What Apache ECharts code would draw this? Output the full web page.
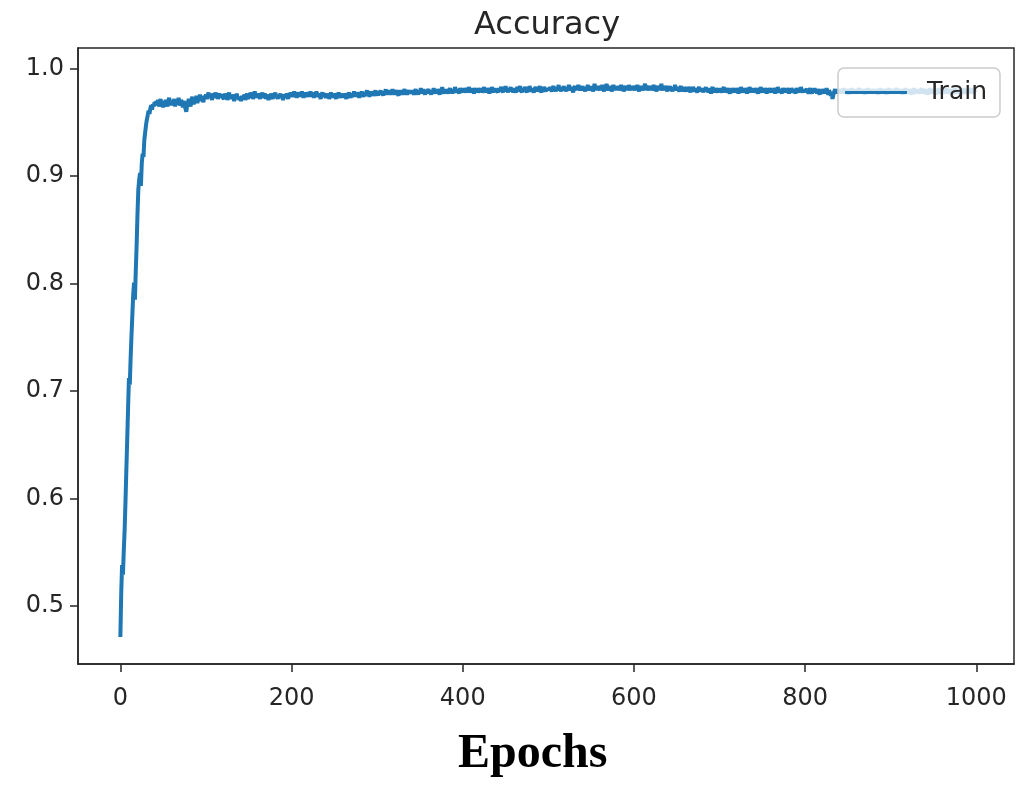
<!DOCTYPE html>
<html><head><meta charset="utf-8">
<script src="https://cdn.jsdelivr.net/npm/echarts@6/dist/echarts.min.js"></script>
<style>html,body{margin:0;padding:0;background:#fff}#c{width:1019px;height:787px}</style>
</head><body><div id="c"></div>
<script>
// Training accuracy per epoch (index = epoch)
const acc = [
.471,.512,.538,.529,.552,.571,.598,.627,.655,.684,.712,.706,.731,.752,.771,.790,.801,.785,.812,.836,
.865,.888,.897,.903,.891,.912,.921,.918,.934,.941,.948,.953,.957,.961,.958,.963,.966,.962,.967,.965,
.969,.966,.970,.967,.971,.965,.968,.972,.966,.969,.964,.970,.967,.971,.968,.965,.970,.973,.967,.969,
.966,.971,.968,.972,.965,.969,.970,.967,.973,.968,.966,.971,.969,.964,.970,.967,.963,.960,.966,.969,
.972,.968,.965,.971,.974,.969,.967,.972,.970,.975,.968,.973,.971,.976,.970,.974,.972,.969,.975,.973,
.976,.972,.975,.978,.973,.976,.974,.971,.977,.975,.973,.978,.974,.976,.972,.975,.977,.973,.976,.974,
.975,.972,.977,.974,.976,.971,.975,.978,.973,.975,.972,.976,.974,.970,.975,.973,.977,.972,.974,.971,
.974,.970,.975,.972,.973,.976,.971,.974,.977,.972,.975,.973,.978,.974,.976,.972,.975,.979,.974,.976,
.973,.977,.975,.972,.976,.974,.978,.973,.975,.977,.972,.976,.974,.971,.975,.973,.977,.974,.972,.976,
.974,.978,.973,.975,.972,.976,.974,.977,.973,.975,.971,.974,.976,.973,.977,.975,.972,.976,.974,.978,
.977,.974,.976,.979,.975,.977,.973,.976,.978,.975,.977,.974,.979,.976,.973,.977,.975,.978,.976,.974,
.977,.975,.979,.974,.976,.978,.973,.977,.975,.979,.976,.974,.977,.975,.972,.976,.978,.974,.977,.975,
.973,.976,.974,.977,.972,.975,.978,.974,.976,.973,.977,.975,.972,.976,.974,.978,.975,.973,.977,.974,
.976,.973,.977,.975,.972,.976,.974,.978,.975,.973,.977,.974,.976,.979,.975,.977,.974,.978,.976,.973,
.977,.975,.979,.976,.974,.978,.975,.977,.980,.976,.978,.974,.977,.979,.976,.978,.975,.977,.980,.976,
.978,.975,.979,.977,.980,.976,.978,.975,.979,.977,.981,.976,.978,.980,.977,.979,.976,.978,.981,.977,
.979,.976,.978,.980,.977,.975,.979,.977,.980,.978,.976,.979,.981,.977,.979,.976,.978,.980,.977,.979,
.977,.980,.978,.976,.979,.981,.977,.979,.976,.980,.978,.982,.977,.979,.981,.978,.976,.980,.978,.979,
.981,.977,.979,.976,.980,.978,.982,.979,.977,.980,.978,.981,.979,.976,.980,.978,.983,.979,.977,.980,
.978,.981,.979,.977,.980,.982,.978,.980,.977,.981,.979,.983,.980,.978,.981,.979,.977,.982,.980,.978,
.981,.979,.982,.980,.978,.981,.979,.983,.980,.978,.982,.979,.981,.977,.980,.982,.979,.981,.978,.980,
.982,.979,.981,.978,.980,.983,.979,.981,.978,.982,.980,.977,.981,.979,.983,.980,.978,.982,.979,.981,
.980,.978,.982,.979,.981,.983,.980,.978,.982,.980,.984,.979,.981,.978,.982,.980,.983,.979,.981,.978,
.982,.980,.978,.981,.983,.979,.981,.984,.980,.978,.982,.979,.981,.983,.980,.978,.982,.980,.984,.981,
.979,.982,.980,.978,.981,.983,.980,.982,.979,.981,.984,.980,.978,.982,.980,.983,.981,.979,.982,.980,
.982,.980,.983,.981,.979,.982,.984,.980,.982,.979,.983,.981,.985,.980,.982,.979,.983,.981,.984,.980,
.982,.979,.983,.981,.985,.982,.980,.983,.981,.978,.982,.984,.980,.983,.981,.985,.982,.980,.983,.981,
.984,.980,.982,.979,.983,.981,.985,.982,.980,.984,.981,.983,.979,.982,.986,.981,.983,.980,.984,.982,
.980,.983,.981,.985,.982,.979,.983,.981,.986,.982,.980,.984,.981,.983,.979,.982,.985,.981,.983,.980,
.984,.981,.983,.980,.982,.985,.981,.983,.979,.982,.984,.981,.983,.980,.985,.982,.980,.983,.981,.984,
.982,.980,.983,.981,.985,.982,.979,.983,.981,.984,.982,.980,.983,.986,.981,.983,.980,.982,.984,.981,
.983,.980,.982,.985,.981,.983,.979,.982,.984,.981,.983,.980,.986,.982,.980,.983,.981,.984,.982,.979,
.983,.981,.984,.980,.982,.979,.983,.981,.985,.982,.980,.983,.981,.979,.982,.984,.980,.982,.979,.983,
.981,.979,.982,.980,.983,.981,.978,.982,.980,.983,.981,.979,.982,.980,.978,.981,.983,.980,.982,.979,
.981,.978,.982,.980,.983,.979,.981,.978,.982,.980,.977,.981,.983,.979,.981,.978,.982,.980,.978,.981,
.979,.982,.980,.978,.981,.983,.979,.981,.978,.980,.982,.979,.977,.981,.979,.982,.980,.978,.981,.979,
.982,.980,.977,.981,.979,.983,.980,.978,.981,.979,.982,.980,.977,.981,.979,.983,.980,.978,.982,.979,
.981,.978,.980,.982,.979,.977,.981,.979,.983,.980,.978,.981,.979,.982,.980,.977,.981,.979,.982,.980,
.978,.981,.979,.982,.980,.977,.981,.979,.983,.980,.978,.981,.979,.977,.982,.980,.978,.981,.979,.982,
.980,.977,.981,.979,.982,.980,.978,.981,.979,.977,.982,.980,.978,.981,.979,.983,.980,.978,.981,.979,
.980,.978,.981,.979,.977,.980,.982,.979,.977,.981,.979,.982,.978,.980,.977,.981,.979,.976,.980,.978,
.981,.979,.977,.980,.978,.982,.979,.976,.980,.978,.975,.977,.972,.976,.979,.981,.978,.980,.977,.979,
.981,.978,.980,.977,.979,.982,.978,.980,.977,.981,.979,.976,.980,.978,.982,.979,.977,.980,.978,.981,
.979,.977,.980,.982,.978,.980,.977,.979,.981,.978,.976,.980,.978,.982,.979,.977,.980,.978,.981,.979,
.977,.980,.978,.981,.979,.976,.980,.978,.982,.979,.977,.980,.978,.981,.979,.976,.980,.978,.982,.979,
.977,.980,.978,.981,.979,.977,.980,.982,.978,.980,.977,.979,.981,.978,.976,.980,.978,.982,.979,.977,
.980,.978,.981,.979,.976,.980,.978,.982,.979,.977,.980,.978,.981,.979,.977,.980,.982,.978,.980,.977,
.979,.981,.978,.976,.980,.978,.982,.979,.977,.980,.978,.981,.979,.976,.980,.978,.982,.979,.977,.980,
.978,.981,.979,.977,.980,.982,.978,.980,.977,.979,.981,.978,.976,.980,.978,.982,.979,.977,.980,.978,
.981,.979,.976,.980,.978,.982,.979,.977,.980,.978,.981,.979,.977,.980,.982,.978,.980,.977,.979,.981
];
const xTicks = [0, 200, 400, 600, 800, 1000];
const yTicks = [0.5, 0.6, 0.7, 0.8, 0.9, 1.0];
const titleText = 'Accuracy';
const xName = 'Epochs';
const seriesName = 'Train';

const chart = echarts.init(document.getElementById('c'), null, {renderer: 'canvas'});
const dark = '#262626';
chart.setOption({
  animation: false,
  backgroundColor: '#fff',
  title: {
    text: titleText, left: 469, top: 5,
    textStyle: {fontFamily: 'DejaVu Sans', fontSize: 32, fontWeight: 'normal', color: dark}
  },
  graphic: [{
    type: 'text', left: 458, top: 731,
    style: {text: xName, font: 'bold 48px "Liberation Serif"', fill: '#000'}
  }],
  legend: {
    left: 838, top: 68,
    padding: [12, 13, 12, 7],
    backgroundColor: 'rgba(255,255,255,0.8)',
    borderColor: '#cccccc', borderWidth: 1.5, borderRadius: 6,
    icon: 'rect', itemWidth: 62, itemHeight: 3,
    textStyle: {fontFamily: 'DejaVu Sans', fontSize: 25, color: dark, padding: [0, 0, 0, 15]},
    data: [seriesName]
  },
  grid: {left: 78, right: 5, top: 48, bottom: 123, show: true, borderColor: dark, borderWidth: 1.5, backgroundColor: 'transparent'},
  xAxis: {
    type: 'value', min: -49.5, max: 1044,
    axisLine: {show: true, onZero: false, lineStyle: {color: dark, width: 1.5}},
    axisTick: {show: true, length: 8, customValues: xTicks, lineStyle: {color: dark, width: 1.5}},
    axisLabel: {customValues: xTicks, margin: 23, fontFamily: 'DejaVu Sans', fontSize: 24, color: dark,
      formatter: v => String(v)},
    splitLine: {show: false}
  },
  yAxis: {
    type: 'value', min: 0.4459, max: 1.0194,
    axisLine: {show: true, onZero: false, lineStyle: {color: dark, width: 1.5}},
    axisTick: {show: true, length: 8, customValues: yTicks, lineStyle: {color: dark, width: 1.5}},
    axisLabel: {customValues: yTicks, margin: 14, fontFamily: 'DejaVu Sans', fontSize: 24, color: dark,
      formatter: v => v.toFixed(1)},
    splitLine: {show: false}
  },
  series: [{
    name: seriesName, type: 'line', showSymbol: false, symbol: 'none',
    data: acc.map((v, i) => [i, v]),
    lineStyle: {color: '#1f77b4', width: 4},
    itemStyle: {color: '#1f77b4'},
    z: 2
  }]
});
</script></body></html>
